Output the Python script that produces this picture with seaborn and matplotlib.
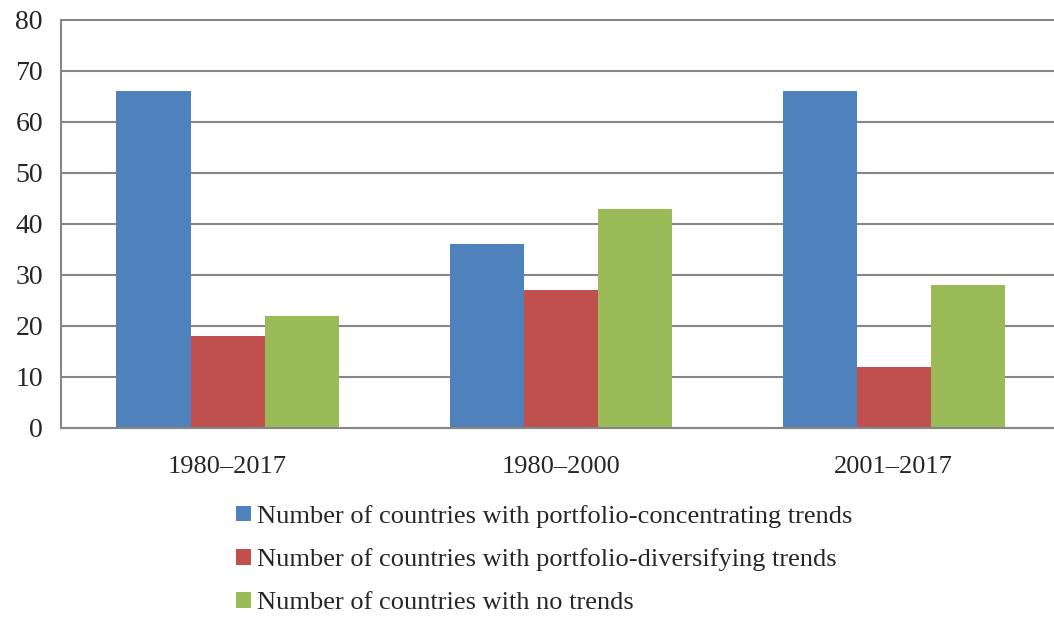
import pandas as pd
import seaborn as sns
import matplotlib.pyplot as plt
from matplotlib.patches import Patch

periods = ['1980–2017', '1980–2000', '2001–2017']
series = ['Number of countries with portfolio-concentrating trends',
          'Number of countries with portfolio-diversifying trends',
          'Number of countries with no trends']
concentrating = [66, 36, 66]
diversifying = [18, 27, 12]
no_trends = [22, 43, 28]
colors = ['#4F81BD', '#C0504D', '#9BBB59']

df = pd.DataFrame({
    'period': periods * 3,
    'series': [s for s in series for _ in periods],
    'count': concentrating + diversifying + no_trends,
})

sns.set_style('white')
plt.rcParams['font.family'] = ['Liberation Serif', 'DejaVu Serif']

fig = plt.figure(figsize=(10.54, 6.21), dpi=100)
ax = fig.add_axes([0.0579, 0.311, 0.948, 0.657])
sns.barplot(data=df, x='period', y='count', hue='series', palette=colors,
            order=periods, hue_order=series, width=0.667, gap=0,
            linewidth=0, saturation=1, ax=ax, legend=False)

ax.set_xlim(-0.5, 2.5)
ax.set_ylim(0, 80)
ax.set_yticks(range(0, 81, 10))
ax.yaxis.grid(True, color='#868686', linewidth=1.5)
for line in ax.get_ygridlines():
    line.set_clip_on(False)
ax.set_axisbelow(True)
for s in ['top', 'right']:
    ax.spines[s].set_visible(False)
for s in ['left', 'bottom']:
    ax.spines[s].set_color('#868686')
    ax.spines[s].set_linewidth(1.5)

ax.set_xticks([-0.5, 0.5, 1.5, 2.5])
ax.set_xticklabels([])
ax.set_xticks([0, 1, 2], minor=True)
ax.set_xticklabels(periods, minor=True, fontsize=19)
ax.tick_params(axis='x', which='major', length=8, width=1.5, color='#868686', direction='out')
ax.tick_params(axis='x', which='minor', length=0, pad=20)
ax.tick_params(axis='y', length=8, width=1.5, color='#868686', direction='out', labelsize=20, pad=5)
ax.set_xlabel('')
ax.set_ylabel('')

handles = [Patch(facecolor=c, edgecolor='none') for c in colors]
fig.legend(handles, series, loc='upper left', bbox_to_anchor=(0.224, 0.187),
           frameon=False, fontsize=19, handlelength=0.55, handleheight=0.55,
           handletextpad=0.25, labelspacing=0.78, borderpad=0, borderaxespad=0)

fig.savefig('out.png', dpi=100)
